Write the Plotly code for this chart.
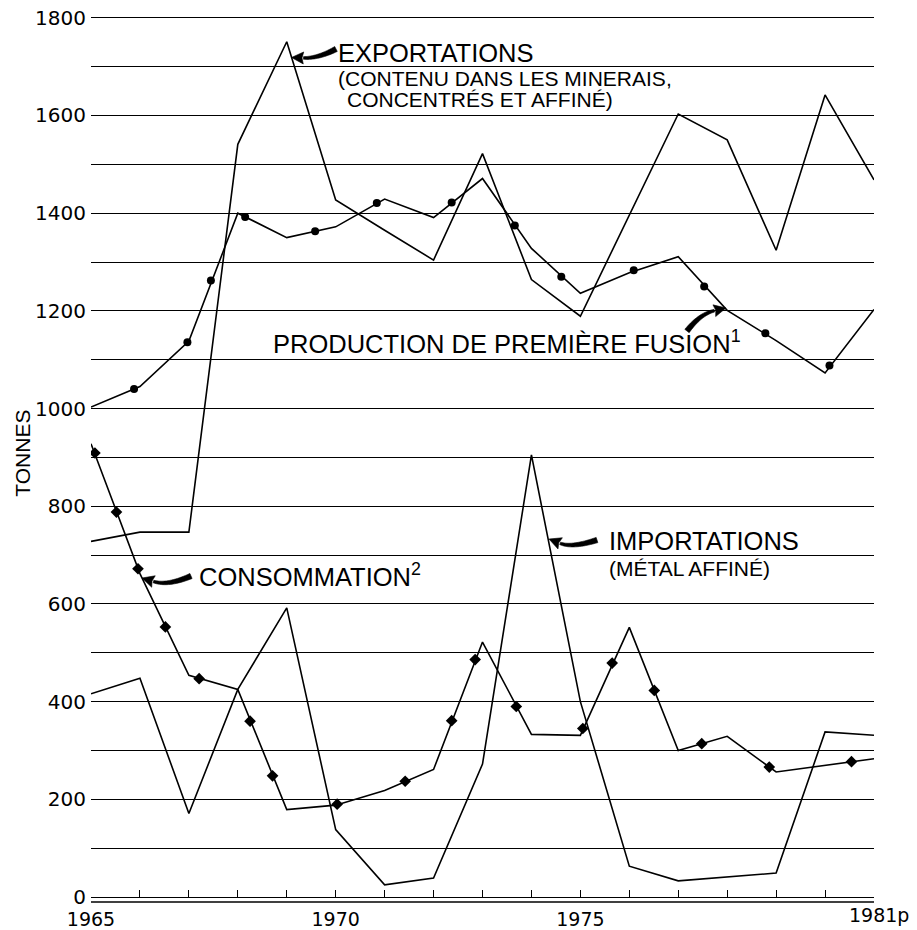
import math
import plotly.graph_objects as go

# Données (tonnes)
years = list(range(1965, 1982))
exportations = [728, 747, 747, 1541, 1751, 1427, 1365, 1304, 1522, 1264, 1189,
                1397, 1603, 1550, 1324, 1642, 1468]
production = [1003, 1045, 1138, 1400, 1350, 1372, 1429, 1391, 1471, 1328, 1236,
              1278, 1311, 1201, 1139, 1073, 1203]
consommation = [928, 662, 454, 425, 179, 188, 218, 261, 522, 333, 331,
                552, 300, 329, 256, 270, 283]
importations = [416, 448, 171, 425, 592, 138, 25, 39, 272, 905, 400,
                63, 33, 41, 49, 338, 331]

# points décoratifs posés sur les courbes
prod_dot_years = [1965.88, 1966.97, 1967.45, 1968.15, 1969.58, 1970.84, 1972.37,
                  1973.66, 1974.61, 1976.09, 1977.53, 1978.78, 1980.09]
prod_dot_vals = [1040, 1136, 1262, 1392, 1363, 1421, 1422, 1375, 1270, 1283,
                 1250, 1154, 1088]
cons_dot_years = [1965.08, 1965.52, 1965.96, 1966.52, 1967.21, 1968.25, 1968.71,
                  1970.03, 1971.42, 1972.37, 1972.85, 1973.69, 1975.05, 1975.65,
                  1976.51, 1977.48, 1978.86, 1980.54]
cons_dot_vals = [909, 788, 672, 553, 447, 360, 248, 190, 237, 361, 486, 390,
                 345, 479, 423, 314, 266, 277]

x_tickvals = [1965, 1970, 1975]
x_ticktext = ["1965", "1970", "1975"]

# géométrie de la zone de tracé, en pixels de page
W, H = 917, 930
ML, MR, MT, MB = 91, 43, 15, 33
PW, PH = W - ML - MR, H - MT - MB
YMAX = 1800 * (H - MB - MT) / (H - MB - 17.8)


def to_data(px, py):
    return 1965 + (px - ML) * 16 / PW, (H - MB - py) * YMAX / PH


def to_paper(px, py):
    return (px - ML) / PW, (H - MB - py) / PH


def path_str(pts):
    out = []
    for i, (px, py) in enumerate(pts):
        x, y = to_data(px, py)
        out.append(("M" if i == 0 else "L") + f"{x:.4f},{y:.2f}")
    return " ".join(out) + " Z"


def arrow_shapes(tail, ctrl, tip, w0=5.5, w1=2.6, head_len=12, head_w=12):
    cx, cy = ctrl
    tx, ty = tip
    d = math.hypot(tx - cx, ty - cy)
    ux, uy = (tx - cx) / d, (ty - cy) / d
    bx, by = tx - ux * head_len, ty - uy * head_len
    left, right = [], []
    n = 20
    for i in range(n + 1):
        t = i / n
        x = (1 - t) ** 2 * tail[0] + 2 * (1 - t) * t * cx + t * t * bx
        y = (1 - t) ** 2 * tail[1] + 2 * (1 - t) * t * cy + t * t * by
        dx = 2 * (1 - t) * (cx - tail[0]) + 2 * t * (bx - cx)
        dy = 2 * (1 - t) * (cy - tail[1]) + 2 * t * (by - cy)
        ln = math.hypot(dx, dy)
        nx, ny = -dy / ln, dx / ln
        w = (w0 + (w1 - w0) * t) / 2
        left.append((x + nx * w, y + ny * w))
        right.append((x - nx * w, y - ny * w))
    shaft = left + right[::-1]
    head = [(tx, ty), (bx - uy * head_w / 2, by + ux * head_w / 2),
            (bx + ux * 1.5, by + uy * 1.5), (bx + uy * head_w / 2, by - ux * head_w / 2)]
    style = dict(type="path", xref="x", yref="y", fillcolor="black",
                 line=dict(color="black", width=0.6), layer="above")
    return [dict(path=path_str(shaft), **style), dict(path=path_str(head), **style)]


fig = go.Figure()

line_style = dict(color="black", width=1.6)
for serie in [exportations, production, consommation, importations]:
    fig.add_trace(go.Scatter(x=years, y=serie, mode="lines", line=line_style,
                             showlegend=False, hoverinfo="skip"))

fig.add_trace(go.Scatter(x=prod_dot_years, y=prod_dot_vals, mode="markers",
                         marker=dict(symbol="circle", size=8, color="black"),
                         showlegend=False))
fig.add_trace(go.Scatter(x=cons_dot_years, y=cons_dot_vals, mode="markers",
                         marker=dict(symbol="diamond", size=9, color="black"),
                         showlegend=False))

big = dict(family="Liberation Sans, Arial, sans-serif", size=25.5, color="black")
small = dict(family="Liberation Sans, Arial, sans-serif", size=21, color="black")
labels = [
    ("EXPORTATIONS", 336, 53.3, big),
    ("(CONTENU DANS LES MINERAIS,", 336, 78.3, small),
    ("CONCENTRÉS ET AFFINÉ)", 345, 99.7, small),
    ("PRODUCTION DE PREMIÈRE FUSION<sup>1</sup>", 271, 341.7, big),
    ("CONSOMMATION<sup>2</sup>", 196.5, 575, big),
    ("IMPORTATIONS", 607, 541.3, big),
    ("(MÉTAL AFFINÉ)", 607, 568.3, small),
]
annotations = []
for txt, px, py, f in labels:
    x, y = to_data(px, py)
    annotations.append(dict(text=txt, x=x, y=y, xref="x", yref="y",
                            xanchor="left", yanchor="middle", showarrow=False, font=f))

tick_font = dict(family="DejaVu Sans, sans-serif", size=20, color="black")
xtick_font = dict(family="DejaVu Sans, sans-serif", size=19, color="black")
xp, yp = to_paper(874, 915)
annotations.append(dict(text="1981p", x=xp, y=yp, xref="paper", yref="paper",
                        xanchor="left", yanchor="middle", xshift=-27,
                        showarrow=False, font=xtick_font))
xp, yp = to_paper(21.7, 453)
annotations.append(dict(text="TONNES", x=xp, y=yp, xref="paper", yref="paper",
                        textangle=-90, xanchor="center", yanchor="middle",
                        showarrow=False,
                        font=dict(family="Liberation Sans, Arial, sans-serif",
                                  size=21, color="black")))

shapes = []
shapes += arrow_shapes((336, 49), (318, 58.5), (291.5, 57.5))
shapes += arrow_shapes((687, 331), (700, 314), (726, 308))
shapes += arrow_shapes((191, 576), (168, 586), (142, 578))
shapes += arrow_shapes((597, 540), (572, 548), (549, 539))
# double trait sous l'axe horizontal
shapes.append(dict(type="line", xref="paper", yref="paper", x0=0, x1=1,
                   y0=-5 / PH, y1=-5 / PH, line=dict(color="black", width=1.4)))

fig.update_layout(
    width=W, height=H,
    margin=dict(l=ML, r=MR, t=MT, b=MB),
    paper_bgcolor="white", plot_bgcolor="white",
    annotations=annotations, shapes=shapes,
    xaxis=dict(range=[1965, 1981], tickvals=x_tickvals, ticktext=x_ticktext,
               ticks="inside", ticklen=7, tickwidth=1.3, tickcolor="black",
               minor=dict(tick0=1965, dtick=1, ticks="inside", ticklen=7,
                          tickwidth=1.3, tickcolor="black"),
               showline=True, linecolor="black", linewidth=1.4,
               showgrid=False, zeroline=False, tickfont=xtick_font,
               ticklabelstandoff=5, automargin=False, ticklabeloverflow="allow"),
    yaxis=dict(range=[0, YMAX], tick0=0, dtick=200, ticks="",
               showgrid=True, gridcolor="black", gridwidth=1.2,
               minor=dict(dtick=100, showgrid=True, gridcolor="black", gridwidth=1.2),
               zeroline=False, showline=False, tickfont=tick_font,
               ticklabelstandoff=4, automargin=False, ticklabeloverflow="allow"),
    font=dict(family="Liberation Sans, Arial, sans-serif", color="black"),
)

# la page n'a pas de marge autour de la figure
fig.write_html("out.html", config={"displayModeBar": False},
               post_script="document.body.style.margin = '0';")
